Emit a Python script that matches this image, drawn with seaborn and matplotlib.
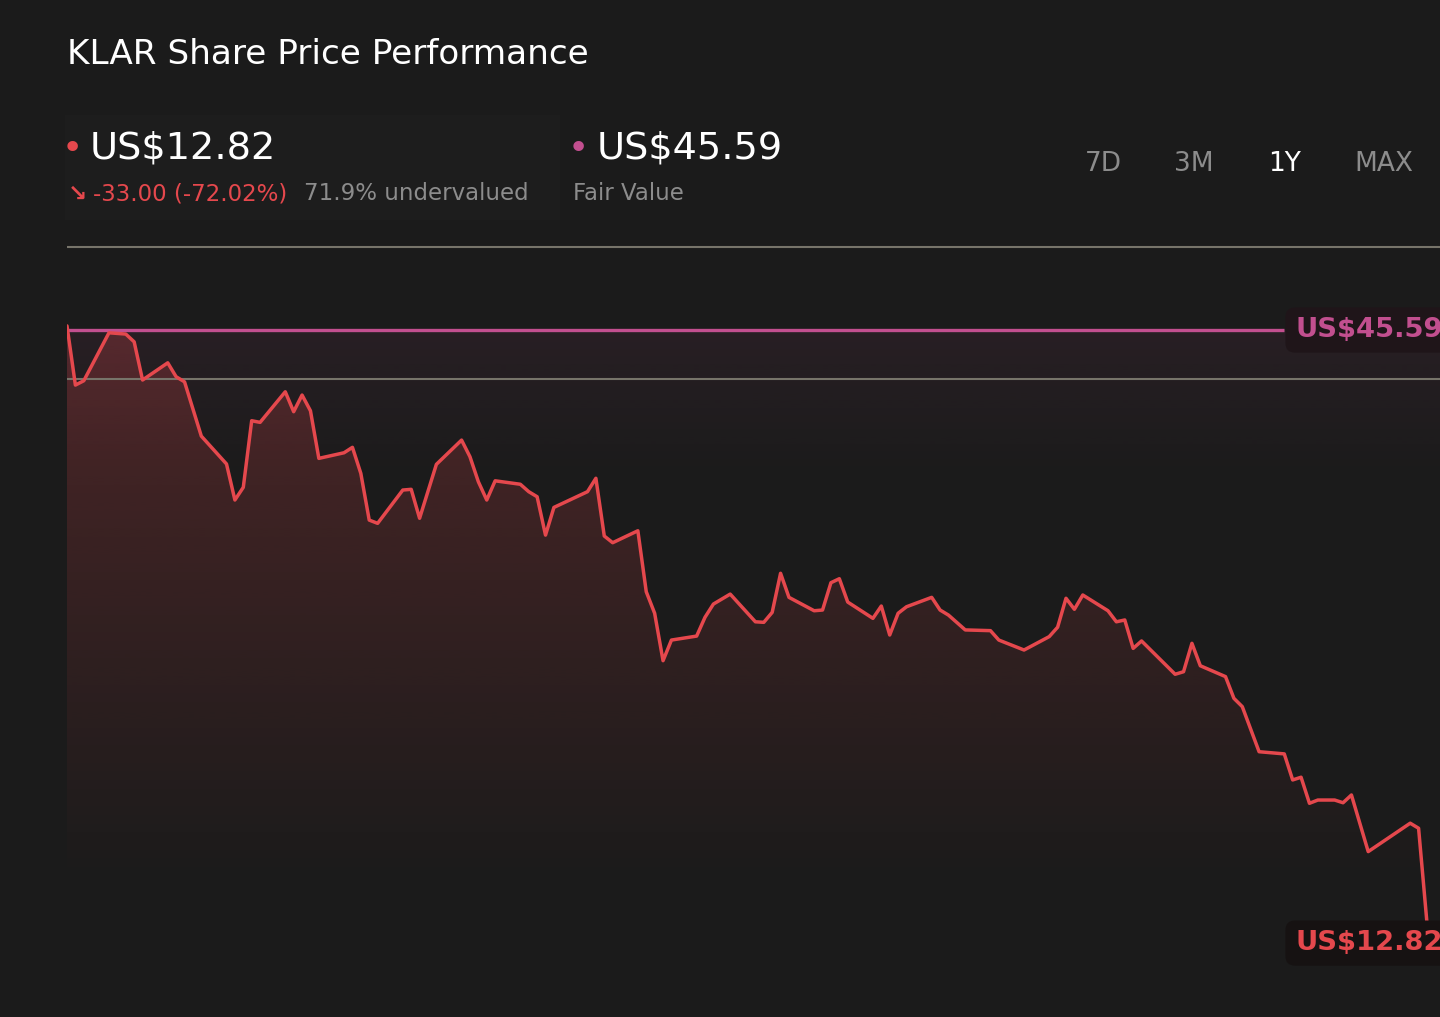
import numpy as np
import pandas as pd
import matplotlib
matplotlib.use("Agg")
import matplotlib.pyplot as plt
from matplotlib.patches import Rectangle
import seaborn as sns

# Price series (trading-day index, close in US$)
days = [0, 1, 2, 5, 7, 8, 9, 12, 13, 14,
        16, 19, 20, 21, 22, 23, 26, 27, 28, 29,
        30, 33, 34, 35, 36, 37, 40, 41, 42, 44,
        47, 48, 49, 50, 51, 54, 55, 56, 57, 58,
        62, 63, 64, 65, 68, 69, 70, 71, 72, 75,
        76, 77, 79, 82, 83, 84, 85, 86, 89, 90,
        91, 92, 93, 96, 97, 98, 99, 100, 103, 104,
        105, 107, 110, 111, 114, 117, 118, 119, 120, 121,
        124, 125, 126, 127, 128, 132, 133, 134, 135, 138,
        139, 140, 142, 145, 146, 147, 148, 149, 151, 152,
        153, 155, 160, 161, 162]
prices = [45.82, 42.55, 42.79, 45.44, 45.37, 44.94, 42.83, 43.78, 43.01, 42.73,
          39.73, 38.19, 36.20, 36.90, 40.58, 40.49, 42.18, 41.08, 42.00, 41.13,
          38.50, 38.81, 39.11, 37.67, 35.09, 34.91, 36.75, 36.79, 35.19, 38.17,
          39.51, 38.59, 37.21, 36.20, 37.26, 37.07, 36.66, 36.38, 34.26, 35.79,
          36.66, 37.40, 34.21, 33.84, 34.50, 31.13, 29.94, 27.32, 28.46, 28.68,
          29.72, 30.45, 31.00, 29.47, 29.44, 29.99, 32.15, 30.82, 30.08, 30.12,
          31.63, 31.85, 30.56, 29.66, 30.34, 28.74, 29.94, 30.30, 30.82, 30.12,
          29.84, 29.02, 28.98, 28.46, 27.91, 28.65, 29.17, 30.77, 30.16, 30.95,
          30.08, 29.47, 29.57, 28.00, 28.41, 26.57, 26.71, 28.28, 27.04, 26.44,
          25.24, 24.78, 22.29, 22.17, 20.73, 20.88, 19.44, 19.62, 19.62, 19.47,
          19.90, 16.77, 18.34, 18.06, 12.82]

fair_value = 45.59
last_price = 12.82
change = -33.00
change_pct = -72.02
undervalued_pct = 71.9
grid_levels = [50.18, 42.88]
periods = ["7D", "3M", "1Y", "MAX"]
active_period = "1Y"

df = pd.DataFrame({"day": days, "price": prices})

BG = "#1b1b1b"
RED = "#e5484d"
PINK = "#c24f8f"
GREY = "#8c8c8c"
GRID = "#77746a"

sns.set_theme(style="dark", rc={"axes.facecolor": BG, "figure.facecolor": BG,
                                "savefig.facecolor": BG})
plt.rcParams["font.family"] = ["DejaVu Sans"]

W, H = 1440, 1017
fig = plt.figure(figsize=(W / 100, H / 100), dpi=100)


def fx(px):
    return px / W


def fy(py):
    return 1 - py / H


# faint header card
fig.patches.append(Rectangle((fx(65), fy(220)), fx(495), 105 / H, transform=fig.transFigure,
                             facecolor="#1d1d1d", edgecolor="none", zorder=0))

ax = fig.add_axes([fx(67), fy(1000), fx(W - 67), (1000 - 230) / H])
ax.set_facecolor("none")
ymin, ymax = 8.57, 51.12
xmax = 163.55

# pink glow under fair value line
n = 256
a = np.linspace(0, 1, n)
pink_rgba = np.zeros((n, 1, 4))
pink_rgba[..., :3] = matplotlib.colors.to_rgb(PINK)
fade_pink = np.clip((a * (fair_value - ymin) + ymin - 37.3) / (fair_value - 37.3), 0, 1)
pink_rgba[:, 0, 3] = 0.08 * fade_pink
ax.imshow(pink_rgba, extent=[0, xmax, ymin, fair_value], origin="lower",
          aspect="auto", zorder=1, interpolation="bilinear")

# red gradient under the price line
red_rgba = np.zeros((n, 1, 4))
red_rgba[..., :3] = matplotlib.colors.to_rgb(RED)
top = max(prices)
yy = ymin + a * (top - ymin)
red_rgba[:, 0, 3] = 0.25 * np.clip((yy - 14.9) / (45.6 - 14.9), 0, 1)
poly = ax.fill_between(df["day"], df["price"], ymin, color="none", lw=0)
im = ax.imshow(red_rgba, extent=[0, max(days), ymin, top], origin="lower",
               aspect="auto", zorder=1.5, interpolation="bilinear")
im.set_clip_path(poly.get_paths()[0], transform=ax.transData)

for g in grid_levels:
    ax.axhline(g, color=GRID, lw=1.5, zorder=2)

ax.hlines(fair_value, 0, 145, color=PINK, lw=2.4, zorder=3)
sns.lineplot(data=df, x="day", y="price", ax=ax, color=RED, linewidth=2.5, zorder=4)

ax.set_xlim(0, xmax)
ax.set_ylim(ymin, ymax)
ax.set_xlabel("")
ax.set_ylabel("")
ax.set_xticks([])
ax.set_yticks([])
for s in ax.spines.values():
    s.set_visible(False)

# right-hand value tags
tag_x = (1295 - 67) / (W - 67)
ax.annotate(f"US${fair_value:.2f}", xy=(tag_x, fair_value), xycoords=ax.get_yaxis_transform(),
            color=PINK, fontsize=19.7, fontweight="bold", va="center", ha="left", zorder=6,
            bbox=dict(boxstyle="round,pad=0.35", facecolor="#1f1519", edgecolor="none"))
ax.annotate(f"US${last_price:.2f}", xy=(tag_x, last_price), xycoords=ax.get_yaxis_transform(),
            xytext=(0, -20), textcoords="offset pixels",
            color=RED, fontsize=19.7, fontweight="bold", va="center", ha="left", zorder=6,
            bbox=dict(boxstyle="round,pad=0.35", facecolor="#161212", edgecolor="none"))

# header
fig.text(fx(67), fy(55), "KLAR Share Price Performance", color="white",
         fontsize=24.7, va="center", ha="left")

fig.text(fx(62), fy(149), "•", color=RED, fontsize=26, va="center", ha="left")
fig.text(fx(90), fy(149), f"US${last_price:.2f}", color="white", fontsize=27.5,
         va="center", ha="left")
fig.text(fx(68), fy(194), "↘", color=RED, fontsize=16.5, va="center", ha="left",
         fontweight="bold")
fig.text(fx(93), fy(194), f"{change:.2f} ({change_pct:.2f}%)", color=RED,
         fontsize=16.5, va="center", ha="left")
fig.text(fx(304), fy(194), f"{undervalued_pct}% undervalued", color=GREY,
         fontsize=16.5, va="center", ha="left")

fig.text(fx(568), fy(149), "•", color=PINK, fontsize=26, va="center", ha="left")
fig.text(fx(597), fy(149), f"US${fair_value:.2f}", color="white", fontsize=27.5,
         va="center", ha="left")
fig.text(fx(573), fy(194), "Fair Value", color=GREY, fontsize=16.5,
         va="center", ha="left")

for label, cx in zip(periods, [1103, 1194, 1285, 1384]):
    fig.text(fx(cx), fy(164), label, color="white" if label == active_period else GREY,
             fontsize=19, va="center", ha="center")

fig.savefig("out.png", dpi=100, facecolor=BG)
